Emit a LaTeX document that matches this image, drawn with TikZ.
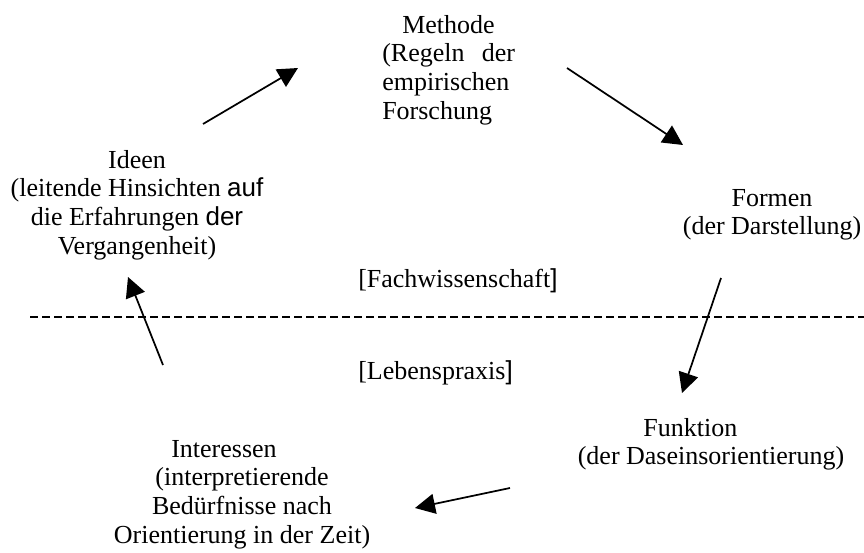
\documentclass[tikz,border=0pt]{standalone}
\usepackage{fontspec}
\setmainfont{Liberation Serif}
\newfontfamily\arialfont{Liberation Sans}
\usetikzlibrary{arrows.meta}
\tikzset{
  blocktext/.style={font=\fontsize{19.5}{21.5}\selectfont, inner sep=0pt},
  cyclearrow/.style={line width=1.3pt, -{Triangle[length=15pt,width=15pt]}},
  borderline/.style={line width=1.2pt, dash pattern=on 6pt off 3pt},
}
\begin{document}
\begin{tikzpicture}[x=0.75pt,y=-0.75pt]
\useasboundingbox (0,0) rectangle (864,553);
% the five stations
\node[blocktext, anchor=north west, align=left] (methode) at (382,15)
  {\hspace*{15pt}Methode\\(Regeln\hspace{13pt}der\\empirischen\\Forschung};
\node[blocktext, anchor=north, align=center] (formen) at (772,189)
  {Formen\\(der Darstellung)};
\node[blocktext, anchor=north, align=center] (funktion) at (711,418)
  {Funktion\hspace*{31pt}\\(der Daseinsorientierung)};
\node[blocktext, anchor=north, align=center] (interessen) at (242,440)
  {Interessen\hspace*{27pt}\\(interpretierende\\Bed\"urfnisse nach\\Orientierung in der Zeit)};
\node[blocktext, anchor=north, align=center] (ideen) at (137,150)
  {Ideen\\(leitende Hinsichten {\arialfont auf}\\die Erfahrungen {\arialfont der}\\Vergangenheit)};
% the two spheres
\node[blocktext, anchor=base west] (fach) at (358,287) {[Fachwissenschaft{\arialfont ]}};
\node[blocktext, anchor=base west] (leben) at (358,379) {[Lebenspraxis{\arialfont ]}};
\coordinate (grenzeL) at (30,317);
\coordinate (grenzeR) at (864,317);
\draw[borderline] (grenzeL) -- (grenzeR);
% arrows of the cycle
\coordinate (p1a) at (203,124);  \coordinate (p1b) at (298,68);
\coordinate (p2a) at (567,68);   \coordinate (p2b) at (683,145);
\coordinate (p3a) at (721,278);  \coordinate (p3b) at (682,393);
\coordinate (p4a) at (510,488);  \coordinate (p4b) at (415,508);
\coordinate (p5a) at (163,365);  \coordinate (p5b) at (128,277);
\foreach \i in {1,...,5}
  \draw[cyclearrow] (p\i a) -- (p\i b);
\end{tikzpicture}
\end{document}
